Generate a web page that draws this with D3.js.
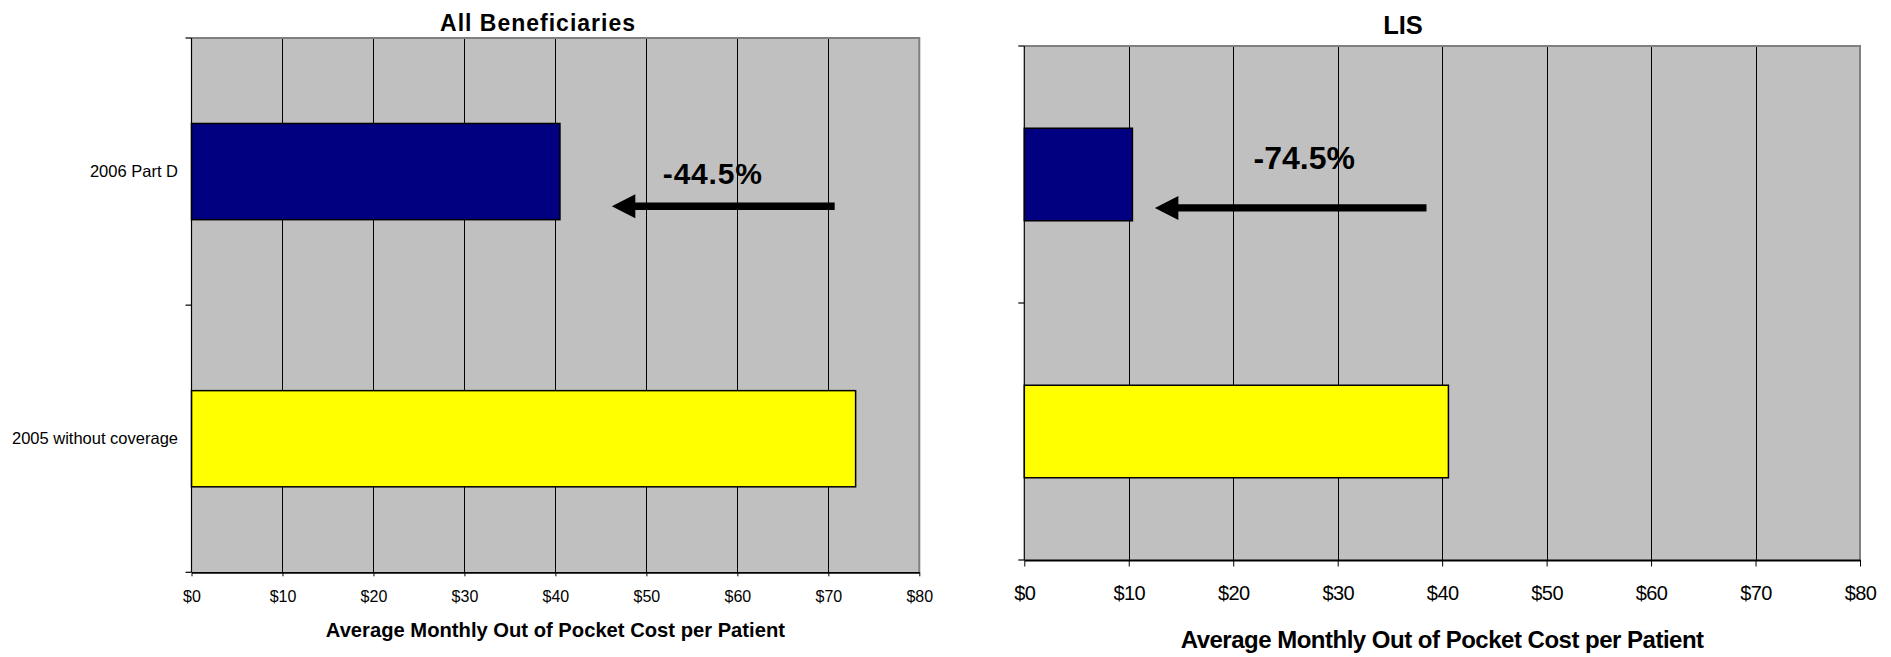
<!DOCTYPE html>
<html>
<head>
<meta charset="utf-8">
<script src="https://cdn.jsdelivr.net/npm/d3@7"></script>
<style>
  html, body { margin: 0; padding: 0; background: #ffffff; }
  svg { display: block; }
  text { font-family: "Liberation Sans", Arial, Helvetica, sans-serif; fill: #000; }
</style>
</head>
<body>
<svg id="chart" width="1891" height="657"></svg>
<script>
// Categories, top to bottom
const categories = ["2006 Part D", "2005 without coverage"];

// Average monthly out-of-pocket cost per patient ($)
const allBeneficiaries = [40.5, 73];
const lisBeneficiaries = [10.35, 40.6];

// Axis
const costTicks = [0, 10, 20, 30, 40, 50, 60, 70, 80];
const costDomain = [0, 80];

const barColors = ["#000080", "#FFFF00"];
const axisTitle = "Average Monthly Out of Pocket Cost per Patient";

// Arrow annotation (tail and tip in $ on the cost axis)
const allArrow = [70.7, 46.2];
const lisArrow = [38.5, 12.5];
// Label anchor on the cost axis ($)
const allLabelAt = 57.3;
const lisLabelAt = 26.8;

const panels = [
  {
    title: "All Beneficiaries", values: allBeneficiaries, arrow: allArrow, labelAt: allLabelAt,
    showCategories: true,
    left: 191.5, right: 919.3, top: 38, bottom: 572.3,
    titleX: 538, titleY: 30.7, titleSize: 23, titleSpacing: 1,
    tickSize: 16, tickBaseline: 29.4, tickLen: 4, tickSpacing: 0,
    axisTitleSize: 20.2, axisTitleY: 637.3, axisTitleSpacing: 0,
    labelSize: 30, labelSpacing: 0.8, labelY: 184.3
  },
  {
    title: "LIS", values: lisBeneficiaries, arrow: lisArrow, labelAt: lisLabelAt,
    showCategories: false,
    left: 1024.3, right: 1860, top: 46, bottom: 560,
    titleX: 1403, titleY: 34.3, titleSize: 25.5, titleSpacing: 0,
    tickSize: 20, tickBaseline: 40, tickLen: 6.5, tickSpacing: -0.6,
    axisTitleSize: 24, axisTitleY: 648, axisTitleSpacing: -0.5,
    labelSize: 32, labelSpacing: 0, labelY: 169
  }
];

const svg = d3.select("#chart");
// Plain hyphen for negative numbers
const locale = d3.formatLocale({ decimal: ".", thousands: ",", grouping: [3], currency: ["$", ""], minus: "-" });
const pct = locale.format(".1f");

panels.forEach(p => {
  const g = svg.append("g");
  const x = d3.scaleLinear().domain(costDomain).range([p.left, p.right]);
  const y = d3.scaleBand().domain(categories).range([p.top, p.bottom])
    .paddingInner(0.64).paddingOuter(0.32);
  const plotH = p.bottom - p.top;

  // Plot area
  g.append("rect")
    .attr("x", p.left).attr("y", p.top)
    .attr("width", p.right - p.left).attr("height", plotH)
    .attr("fill", "#C0C0C0");

  // Vertical gridlines
  g.append("g")
    .selectAll("line")
    .data(costTicks.filter(t => t > costDomain[0] && t < costDomain[1]))
    .join("line")
    .attr("x1", d => Math.round(x(d)) + 0.5).attr("x2", d => Math.round(x(d)) + 0.5)
    .attr("y1", p.top).attr("y2", p.bottom)
    .attr("stroke", "#000").attr("stroke-width", 1);

  // Plot frame (top and right)
  g.append("path")
    .attr("d", `M${p.left},${p.top}H${p.right}V${p.bottom}`)
    .attr("fill", "none").attr("stroke", "#808080").attr("stroke-width", 2);

  // Bars
  g.append("g")
    .selectAll("rect")
    .data(categories.map((c, i) => ({ c, v: p.values[i], color: barColors[i] })))
    .join("rect")
    .attr("x", x(0))
    .attr("y", d => y(d.c))
    .attr("width", d => x(d.v) - x(0))
    .attr("height", y.bandwidth())
    .attr("fill", d => d.color)
    .attr("stroke", "#000").attr("stroke-width", 1.5);

  // Category axis: line and ticks between categories
  const bounds = d3.range(categories.length + 1).map(i => p.top + i * plotH / categories.length);
  g.append("line")
    .attr("x1", p.left).attr("x2", p.left)
    .attr("y1", p.top).attr("y2", p.bottom)
    .attr("stroke", "#000").attr("stroke-width", 1.2);
  g.append("g").selectAll("line").data(bounds).join("line")
    .attr("x1", p.left - 6).attr("x2", p.left)
    .attr("y1", d => d).attr("y2", d => d)
    .attr("stroke", "#000").attr("stroke-width", 1.2);

  if (p.showCategories) {
    g.append("g").selectAll("text").data(categories).join("text")
      .attr("x", p.left - 13.5)
      .attr("y", d => y(d) + y.bandwidth() / 2)
      .attr("dy", "0.32em")
      .attr("text-anchor", "end")
      .attr("font-size", 16.5)
      .text(d => d);
  }

  // Cost axis
  const xAxis = d3.axisBottom(x)
    .tickValues(costTicks)
    .tickFormat(d => "$" + d)
    .tickSize(p.tickLen)
    .tickSizeOuter(0);
  const ax = g.append("g")
    .attr("transform", `translate(0,${p.bottom})`)
    .call(xAxis);
  ax.select(".domain").attr("stroke", "#000").attr("stroke-width", 1.8);
  ax.selectAll(".tick line").attr("stroke", "#000");
  ax.selectAll(".tick text")
    .attr("y", p.tickBaseline).attr("dy", 0)
    .attr("font-size", p.tickSize)
    .attr("letter-spacing", p.tickSpacing)
    .attr("font-family", '"Liberation Sans", Arial, sans-serif')
    .attr("fill", "#000");

  // Axis title
  g.append("text")
    .attr("x", (p.left + p.right) / 2)
    .attr("y", p.axisTitleY)
    .attr("text-anchor", "middle")
    .attr("font-size", p.axisTitleSize)
    .attr("font-weight", "bold")
    .attr("letter-spacing", p.axisTitleSpacing)
    .text(axisTitle);

  // Chart title
  g.append("text")
    .attr("x", p.titleX).attr("y", p.titleY)
    .attr("text-anchor", "middle")
    .attr("font-size", p.titleSize)
    .attr("font-weight", "bold")
    .attr("letter-spacing", p.titleSpacing)
    .text(p.title);

  // Change arrow from the 2005 cost down to the 2006 cost
  const arrowY = p.top + 0.63 * (plotH / categories.length);
  const tail = x(p.arrow[0]), tip = x(p.arrow[1]);
  const headLen = 23.5, headHalf = 12;
  g.append("line")
    .attr("x1", tip + headLen - 1).attr("x2", tail)
    .attr("y1", arrowY).attr("y2", arrowY)
    .attr("stroke", "#000").attr("stroke-width", 7.4);
  g.append("path")
    .attr("d", `M${tip},${arrowY}L${tip + headLen},${arrowY - headHalf}L${tip + headLen},${arrowY + headHalf}Z`)
    .attr("fill", "#000");

  // Percent change label
  const change = (p.values[0] - p.values[1]) / p.values[1] * 100;
  g.append("text")
    .attr("x", x(p.labelAt)).attr("y", p.labelY)
    .attr("text-anchor", "middle")
    .attr("font-size", p.labelSize)
    .attr("font-weight", "bold")
    .attr("letter-spacing", p.labelSpacing)
    .text(pct(change) + "%");
});
</script>
</body>
</html>
